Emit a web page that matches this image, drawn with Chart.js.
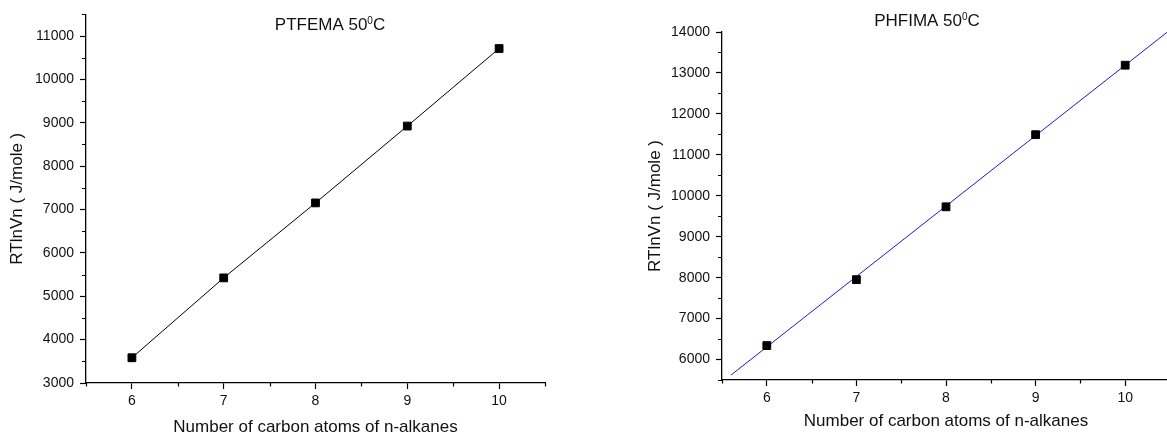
<!DOCTYPE html>
<html>
<head>
<meta charset="utf-8">
<script src="https://cdn.jsdelivr.net/npm/chart.js@4/dist/chart.umd.min.js"></script>
<style>
html, body { margin: 0; padding: 0; background: #fff; overflow: hidden; width: 1167px; height: 438px; }
canvas { position: absolute; top: 0; }
#ptfema { left: 0; }
#phfima { left: 630px; }
</style>
</head>
<body>
<canvas id="ptfema" width="580" height="438"></canvas>
<canvas id="phfima" width="570" height="438"></canvas>
<script>
// values
const carbonAtoms = [6, 7, 8, 9, 10];
const ptfemaValues = [3582, 5424, 7153, 8925, 10713];
const phfimaValues = [6341, 7951, 9730, 11492, 13189];
// end points of the fitted line in the right panel
const phfimaFitX = [5.6, 10.5];
const phfimaFitY = [5620, 14050];

const xTicks = [6, 7, 8, 9, 10];
const ptfemaYTicks = [3000, 4000, 5000, 6000, 7000, 8000, 9000, 10000, 11000];
const phfimaYTicks = [6000, 7000, 8000, 9000, 10000, 11000, 12000, 13000, 14000];

const FONT = 'Liberation Sans, Arial, sans-serif';
Chart.defaults.font.family = FONT;
Chart.defaults.color = '#111';

// small ticks half way between the labelled ones
const minorTicks = {
  id: 'minorTicks',
  afterDraw(chart) {
    const ctx = chart.ctx;
    const area = chart.chartArea;
    ctx.save();
    ctx.strokeStyle = '#000';
    ctx.lineWidth = 1.2;
    for (const id of ['x', 'y']) {
      const scale = chart.scales[id];
      const vals = scale.ticks.map(t => t.value);
      const step = vals[1] - vals[0];
      const minors = [vals[0] - step / 2, ...vals.map(v => v + step / 2)];
      ctx.beginPath();
      for (const v of minors) {
        if (v < scale.min - 1e-6 || v > scale.max + 1e-6) continue;
        const p = Math.round(scale.getPixelForValue(v)) + 0.5;
        if (id === 'x') {
          ctx.moveTo(p, area.bottom);
          ctx.lineTo(p, area.bottom + 3.5);
        } else {
          ctx.moveTo(area.left, p);
          ctx.lineTo(area.left - 4, p);
        }
      }
      ctx.stroke();
    }
    ctx.restore();
  }
};

// title with a raised "0"
const supTitle = {
  id: 'supTitle',
  afterDraw(chart, args, opts) {
    const ctx = chart.ctx;
    ctx.save();
    ctx.fillStyle = '#111';
    ctx.textBaseline = 'alphabetic';
    ctx.font = '17px ' + FONT;
    const w1 = ctx.measureText(opts.text).width;
    const w3 = ctx.measureText(opts.tail).width;
    ctx.font = '10px ' + FONT;
    const w2 = ctx.measureText(opts.sup).width;
    let x = opts.x - (w1 + w2 + w3) / 2;
    ctx.font = '17px ' + FONT;
    ctx.fillText(opts.text, x, opts.y);
    x += w1;
    ctx.font = '10px ' + FONT;
    ctx.fillText(opts.sup, x, opts.y - 5.5);
    x += w2;
    ctx.font = '17px ' + FONT;
    ctx.fillText(opts.tail, x, opts.y);
    ctx.restore();
  }
};

function makeScales(yTicks, yMin, yMax, yWidth, yTitlePad, xHeight, xTitlePad) {
  const grid = { drawOnChartArea: false, drawTicks: true, tickLength: 6, tickColor: '#000', tickWidth: 1.2 };
  const border = { display: true, color: '#000', width: 1.3 };
  return {
    x: {
      type: 'linear',
      min: 5.5,
      max: 10.5,
      grid: grid,
      border: border,
      ticks: { font: { size: 14 }, padding: 4, maxRotation: 0, callback: v => String(v) },
      afterBuildTicks: s => { s.ticks = xTicks.map(v => ({ value: v })); },
      afterFit: s => { s.height = xHeight; },
      title: { display: true, text: 'Number of carbon atoms of n-alkanes', font: { size: 17 }, padding: { top: 0, bottom: xTitlePad } }
    },
    y: {
      type: 'linear',
      min: yMin,
      max: yMax,
      grid: grid,
      border: border,
      ticks: { font: { size: 14 }, padding: 6, callback: v => String(v) },
      afterBuildTicks: s => { s.ticks = yTicks.map(v => ({ value: v })); },
      afterFit: s => { s.width = yWidth; },
      title: { display: true, text: 'RTlnVn ( J/mole )', font: { size: 17 }, padding: { top: yTitlePad, bottom: 0 } }
    }
  };
}

const common = {
  responsive: false,
  animation: false,
  events: [],
  plugins: { legend: { display: false }, tooltip: { enabled: false } }
};

new Chart(document.getElementById('ptfema'), {
  type: 'scatter',
  data: {
    datasets: [{
      data: carbonAtoms.map((x, i) => ({ x: x, y: ptfemaValues[i] })),
      showLine: true,
      borderColor: '#000',
      borderWidth: 1,
      pointStyle: 'rect',
      pointRadius: 5.5,
      pointBackgroundColor: '#000',
      pointBorderColor: '#000',
      pointBorderWidth: 1
    }]
  },
  options: {
    ...common,
    layout: { padding: { top: 8, right: 35, left: 0, bottom: 0 } },
    scales: makeScales(ptfemaYTicks, 3000, 11500, 86, 6.8, 55, 0.8),
    plugins: { ...common.plugins, supTitle: { text: 'PTFEMA 50', sup: '0', tail: 'C', x: 330, y: 29.5 } }
  },
  plugins: [minorTicks, supTitle]
});

new Chart(document.getElementById('phfima'), {
  type: 'scatter',
  data: {
    datasets: [{
      data: carbonAtoms.map((x, i) => ({ x: x, y: phfimaValues[i] })),
      showLine: false,
      pointStyle: 'rect',
      pointRadius: 5.5,
      pointBackgroundColor: '#000',
      pointBorderColor: '#000',
      pointBorderWidth: 1
    }, {
      data: phfimaFitX.map((x, i) => ({ x: x, y: phfimaFitY[i] })),
      showLine: true,
      borderColor: '#1a1acc',
      borderWidth: 1,
      pointRadius: 0
    }]
  },
  options: {
    ...common,
    layout: { padding: { top: 32, right: 30, left: 0, bottom: 0 } },
    scales: makeScales(phfimaYTicks, 5500, 14000, 92, 14.8, 58, 6.8),
    plugins: { ...common.plugins, supTitle: { text: 'PHFIMA 50', sup: '0', tail: 'C', x: 297, y: 25.5 } }
  },
  plugins: [minorTicks, supTitle]
});
</script>
</body>
</html>
